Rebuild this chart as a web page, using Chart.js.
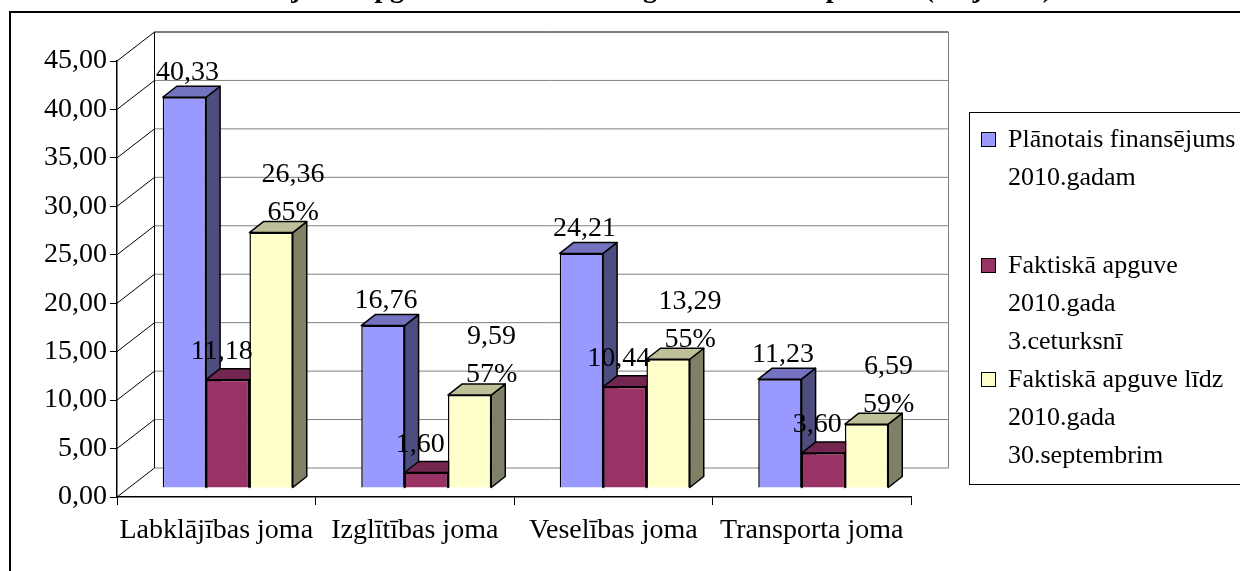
<!DOCTYPE html>
<html>
<head>
<meta charset="utf-8">
<script src="https://cdn.jsdelivr.net/npm/chart.js@4"></script>
<style>
  html, body { margin: 0; padding: 0; background: #fff; }
  #wrap { width: 1240px; height: 571px; }
</style>
</head>
<body>
<div id="wrap"><canvas id="chart" width="1240" height="571"></canvas></div>
<script>
// Chart data
const categories = ['Labklājības joma', 'Izglītības joma', 'Veselības joma', 'Transporta joma'];
const planned = [40.33, 16.76, 24.21, 11.23];
const quarter3 = [11.18, 1.60, 10.44, 3.60];
const untilSept = [26.36, 9.59, 13.29, 6.59];
const shareLabels = ['65%', '57%', '55%', '59%'];
const seriesNames = [
    ['Plānotais finansējums', '2010.gadam'],
    ['Faktiskā apguve', '2010.gada', '3.ceturksnī'],
    ['Faktiskā apguve līdz', '2010.gada', '30.septembrim']
];
const yMax = 45;
const yStep = 5;
const titleText = 'Finansējuma apgūšana nozarēs 2010.gada 9 mēnešu periodā (milj. latu)';

const FONT = '"Liberation Serif", "Times New Roman", serif';
const frontColors = ['#9999FF', '#993366', '#FFFFCC'];
const sideColors = ['#4D4D80', '#4D1A33', '#808066'];
const topColors = ['#7373BF', '#732650', '#BFBF99'];

// 3D offsets
const BAR_DX = 11.5, BAR_DY = -9;
const DEPTH_X = 14, DEPTH_Y = -11;
const WALL_DX = 37.5, WALL_DY = -29;

function fmt(v) {
    return v.toFixed(2).replace('.', ',');
}

function poly(ctx, pts, fill) {
    ctx.beginPath();
    ctx.moveTo(pts[0][0], pts[0][1]);
    for (let i = 1; i < pts.length; i++) ctx.lineTo(pts[i][0], pts[i][1]);
    ctx.closePath();
    ctx.fillStyle = fill;
    ctx.fill();
    ctx.stroke();
}

const threeD = {
    id: 'threeD',
    beforeDatasetsDraw(chart) {
        const ctx = chart.ctx;
        const a = chart.chartArea;
        const y = chart.scales.y;

        // back wall, gridlines and floor diagonals
        ctx.save();
        ctx.lineWidth = 1;
        for (let v = 0; v <= yMax; v += yStep) {
            const py = y.getPixelForValue(v);
            ctx.strokeStyle = v === yMax ? '#000' : '#808080';
            ctx.beginPath();
            ctx.moveTo(a.left + WALL_DX, py + WALL_DY);
            ctx.lineTo(a.right + WALL_DX, py + WALL_DY);
            ctx.stroke();
            ctx.strokeStyle = '#000';
            ctx.beginPath();
            ctx.moveTo(a.left, py);
            ctx.lineTo(a.left + WALL_DX, py + WALL_DY);
            ctx.stroke();
        }
        const top = y.getPixelForValue(yMax) + WALL_DY;
        const bot = y.getPixelForValue(0) + WALL_DY;
        ctx.strokeStyle = '#000';
        ctx.beginPath();
        ctx.moveTo(a.left + WALL_DX, top);
        ctx.lineTo(a.left + WALL_DX, bot);
        ctx.stroke();
        ctx.strokeStyle = '#808080';
        ctx.beginPath();
        ctx.moveTo(a.right + WALL_DX, top);
        ctx.lineTo(a.right + WALL_DX, bot);
        ctx.stroke();
        ctx.restore();

        // side and top faces, then the library draws the front faces
        ctx.save();
        ctx.translate(BAR_DX, BAR_DY);
        ctx.strokeStyle = '#000';
        ctx.lineWidth = 1.5;
        ctx.lineJoin = 'round';
        chart.data.datasets.forEach((ds, i) => {
            chart.getDatasetMeta(i).data.forEach(el => {
                const p = el.getProps(['x', 'y', 'base', 'width'], true);
                const l = p.x - p.width / 2, r = p.x + p.width / 2;
                poly(ctx, [[r, p.y], [r + DEPTH_X, p.y + DEPTH_Y], [r + DEPTH_X, p.base + DEPTH_Y], [r, p.base]], sideColors[i]);
                poly(ctx, [[l, p.y], [l + DEPTH_X, p.y + DEPTH_Y], [r + DEPTH_X, p.y + DEPTH_Y], [r, p.y]], topColors[i]);
            });
        });
    },
    afterDatasetsDraw(chart) {
        const ctx = chart.ctx;
        ctx.restore();

        // value labels
        ctx.save();
        ctx.font = '28px ' + FONT;
        ctx.fillStyle = '#000';
        ctx.textAlign = 'center';
        ctx.textBaseline = 'middle';
        chart.data.datasets.forEach((ds, i) => {
            chart.getDatasetMeta(i).data.forEach((el, j) => {
                const x = el.x + BAR_DX, top = el.y + BAR_DY;
                if (i === 0) {
                    ctx.fillText(fmt(ds.data[j]), x + 3, top - 25);
                } else if (i === 1) {
                    ctx.fillText(fmt(ds.data[j]), x - 6, top - 28);
                } else {
                    ctx.fillText(fmt(ds.data[j]), x + 22, top - 58);
                    ctx.fillText(shareLabels[j], x + 22, top - 20);
                }
            });
        });
        ctx.restore();
    },
    afterDraw(chart) {
        const ctx = chart.ctx;
        ctx.save();

        // outer frame
        ctx.strokeStyle = '#000';
        ctx.lineWidth = 2;
        ctx.beginPath();
        ctx.moveTo(1240, 12);
        ctx.lineTo(10, 12);
        ctx.lineTo(10, 571);
        ctx.stroke();

        // title, mostly above the visible area
        ctx.font = 'bold 28px ' + FONT;
        ctx.fillStyle = '#000';
        ctx.textAlign = 'center';
        ctx.textBaseline = 'alphabetic';
        ctx.fillText(titleText, 625, -3);

        // legend
        ctx.lineWidth = 1;
        ctx.strokeRect(969.5, 112.5, 320, 372);
        ctx.font = '26px ' + FONT;
        ctx.textAlign = 'left';
        ctx.textBaseline = 'middle';
        const firstLines = [140, 266, 380];
        seriesNames.forEach((lines, i) => {
            const y0 = firstLines[i];
            ctx.fillStyle = frontColors[i];
            ctx.fillRect(981.5, y0 - 7.5, 14, 14);
            ctx.strokeStyle = '#000';
            ctx.strokeRect(981.5, y0 - 7.5, 14, 14);
            ctx.fillStyle = '#000';
            lines.forEach((t, k) => ctx.fillText(t, 1008, y0 + k * 38));
        });
        ctx.restore();
    }
};

const barOpts = { borderColor: '#000', borderWidth: 1.5, categoryPercentage: 0.655, barPercentage: 1 };

new Chart(document.getElementById('chart'), {
    type: 'bar',
    data: {
        labels: categories,
        datasets: [
            Object.assign({ label: seriesNames[0].join(' '), data: planned, backgroundColor: frontColors[0] }, barOpts),
            Object.assign({ label: seriesNames[1].join(' '), data: quarter3, backgroundColor: frontColors[1] }, barOpts),
            Object.assign({ label: seriesNames[2].join(' '), data: untilSept, backgroundColor: frontColors[2] }, barOpts)
        ]
    },
    options: {
        responsive: false,
        animation: false,
        devicePixelRatio: 1,
        layout: { padding: { left: 0, top: 61, right: 329, bottom: 0 } },
        plugins: { legend: { display: false }, tooltip: { enabled: false } },
        scales: {
            y: {
                min: 0,
                max: yMax,
                ticks: {
                    stepSize: yStep,
                    callback: v => fmt(v),
                    font: { family: FONT, size: 28 },
                    color: '#000',
                    padding: 3
                },
                grid: { drawOnChartArea: false, tickLength: 7, color: '#000' },
                border: { color: '#000', width: 1.5 },
                afterFit: s => { s.width = 117; }
            },
            x: {
                ticks: {
                    font: { family: FONT, size: 28 },
                    color: '#000',
                    padding: 9,
                    maxRotation: 0,
                    autoSkip: false
                },
                grid: { drawOnChartArea: false, tickLength: 8, color: '#000', offset: true },
                border: { color: '#000', width: 1.5 },
                afterFit: s => { s.height = 74; }
            }
        }
    },
    plugins: [threeD]
});
</script>
</body>
</html>
